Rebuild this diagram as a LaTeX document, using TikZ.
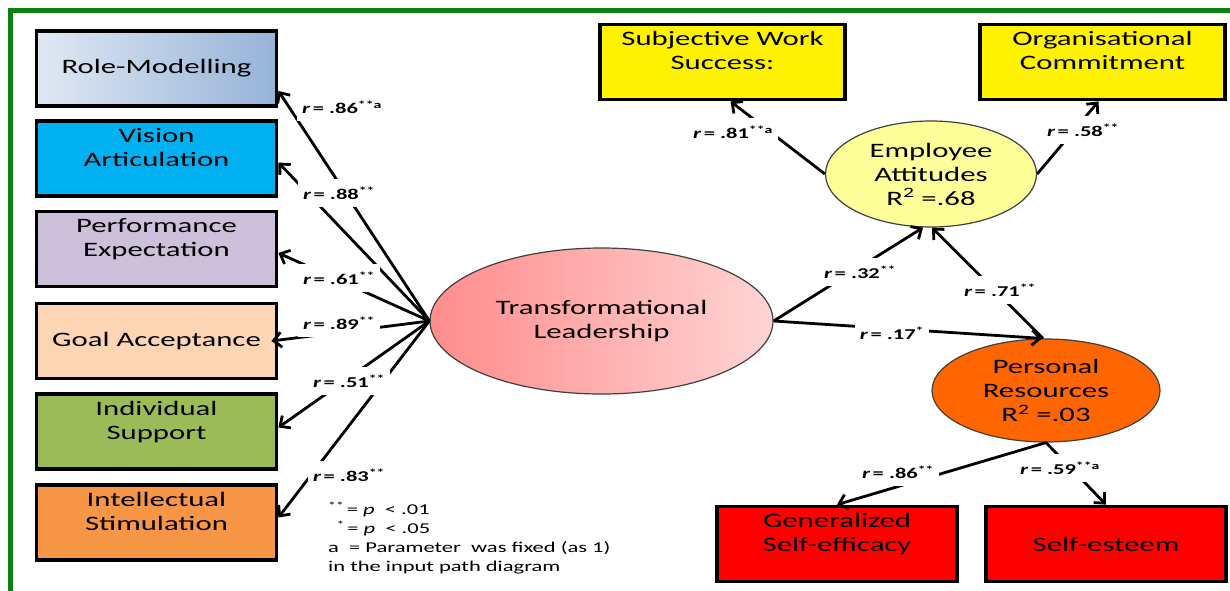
\documentclass[tikz,border=0pt]{standalone}
\usepackage{fontspec}
\setmainfont{Carlito}[FakeStretch=1.5]
\usetikzlibrary{shapes.geometric,arrows.meta}

\definecolor{framegreen}{RGB}{16,128,16}
\definecolor{rolelight}{RGB}{224,232,244}
\definecolor{roledark}{RGB}{149,179,215}
\definecolor{visionblue}{RGB}{0,176,240}
\definecolor{perflilac}{RGB}{204,192,218}
\definecolor{goalpeach}{RGB}{252,213,181}
\definecolor{supgreen}{RGB}{155,187,89}
\definecolor{stimorange}{RGB}{247,150,70}
\definecolor{leadlight}{RGB}{255,212,212}
\definecolor{leaddark}{RGB}{255,140,140}
\definecolor{attyellow}{RGB}{255,255,153}
\definecolor{resorange}{RGB}{255,102,0}

\newcommand{\boxfnt}{\fontsize{20.5}{24}\selectfont}
\newcommand{\coeffnt}{\fontsize{15}{17}\selectfont\bfseries}
\newcommand{\legfnt}{\fontsize{15}{19}\selectfont}

\begin{document}
\begin{tikzpicture}[x=1pt,y=-1pt,
  obsbox/.style={draw,line width=3.8pt,minimum width=240pt,minimum height=75pt,inner sep=0pt,font=\boxfnt},
  boxtop/.style={anchor=north,align=center,yshift=-5.5pt,font=\boxfnt},
  latent/.style={draw=black!75,line width=1.2pt,ellipse,align=center,inner sep=0pt,font=\boxfnt},
  effect/.style={line width=2.8pt,-{Straight Barb[length=8pt,width=15pt]}},
  coef/.style={fill=white,inner xsep=5pt,inner ysep=8pt,font=\coeffnt}]
  \useasboundingbox (0,0) rectangle (1230,590);
  \draw[framegreen,line width=5pt] (10,595) -- (10,10) -- (1235,10);

  % transformational leadership dimensions
  \node[obsbox,left color=rolelight,right color=roledark] (role) at (156.5,68.5) {Role-Modelling};
  \node[obsbox,fill=visionblue,label={[boxtop]north:{Vision\\Articulation}}] (vision) at (156.5,158.5) {};
  \node[obsbox,fill=perflilac,label={[boxtop]north:{Performance\\Expectation}}] (perf) at (156.5,249) {};
  \node[obsbox,fill=goalpeach] (goal) at (156.5,341) {Goal Acceptance};
  \node[obsbox,fill=supgreen,label={[boxtop]north:{Individual\\Support}}] (indiv) at (156.5,431.5) {};
  \node[obsbox,fill=stimorange,label={[boxtop]north:{Intellectual\\Stimulation}}] (intel) at (156.5,522.5) {};

  % latent variables
  \node[latent,minimum width=343pt,minimum height=146pt,left color=leaddark,right color=leadlight] (lead) at (601.5,321) {Transformational\\Leadership};
  \node[latent,minimum width=211pt,minimum height=106pt,fill=attyellow] (attit) at (931,174) {Employee\\Attitudes\\R\textsuperscript{2} =.68};
  \node[latent,minimum width=228pt,minimum height=103pt,fill=resorange] (pers) at (1046,390.5) {Personal\\Resources\\R\textsuperscript{2} =.03};

  % outcomes
  \node[obsbox,minimum width=245pt,fill=yellow,label={[boxtop]north:{Subjective Work\\Success:}}] (subj) at (722.5,62) {};
  \node[obsbox,minimum width=245pt,fill=yellow,label={[boxtop]north:{Organisational\\Commitment}}] (org) at (1102.5,62) {};
  \node[obsbox,fill=red,label={[boxtop]north:{Generalized\\Self-efficacy}}] (gen) at (837,544) {};
  \node[obsbox,fill=red] (self) at (1106,544) {Self-esteem};

  % paths
  \draw[effect] (lead.west) -- ([yshift=17pt]role.south east);
  \draw[effect] (lead.west) -- ([yshift=-4pt]vision.east);
  \draw[effect] (lead.west) -- ([yshift=-4pt]perf.east);
  \draw[effect] (lead.west) -- ([xshift=-7pt]goal.east);
  \draw[effect] (lead.west) -- ([yshift=4pt]indiv.east);
  \draw[effect] (lead.west) -- ([yshift=5pt]intel.east);
  \draw[effect] (lead.east) -- ([xshift=-8pt]attit.south);
  \draw[effect] (lead.east) -- ([xshift=-4pt]pers.north);
  \draw[effect,{Straight Barb[length=8pt,width=15pt]}-] ([xshift=1pt]attit.south) -- ([xshift=-3pt]pers.north);
  \draw[effect] (attit.west) -- ([xshift=8pt]subj.south);
  \draw[effect] (attit.east) -- ([xshift=-4pt]org.south);
  \draw[effect] (pers.south) -- (gen.north);
  \draw[effect] (pers.south) -- (self.north);

  % coefficients
  \node[coef] (rRole) at (342,107) {\textit{r}\,= .86\textsuperscript{**a}};
  \node[coef] (rVision) at (339,193) {\textit{r}\,= .88\textsuperscript{**}};
  \node[coef] (rPerf) at (339,278) {\textit{r}\,= .61\textsuperscript{**}};
  \node[coef] (rGoal) at (339,323) {\textit{r}\,= .89\textsuperscript{**}};
  \node[coef] (rIndiv) at (349,381) {\textit{r}\,= .51\textsuperscript{**}};
  \node[coef] (rIntel) at (349,475) {\textit{r}\,= .83\textsuperscript{**}};
  \node[coef] (rAtt) at (860,272) {\textit{r}\,= .32\textsuperscript{**}};
  \node[coef] (rRes) at (892,333) {\textit{r}\,= .17\textsuperscript{*}};
  \node[coef] (rCor) at (1000,290) {\textit{r}\,= .71\textsuperscript{**}};
  \node[coef] (rSubj) at (733,132) {\textit{r}\,= .81\textsuperscript{**a}};
  \node[coef] (rOrg) at (1083,130) {\textit{r}\,= .58\textsuperscript{**}};
  \node[coef] (rGen) at (898,472) {\textit{r}\,= .86\textsuperscript{**}};
  \node[coef] (rSelf) at (1060,468) {\textit{r}\,= .59\textsuperscript{**a}};

  \node[anchor=north west,align=left,inner sep=0pt,font=\legfnt] (legend) at (328,502)
    {\textsuperscript{**}\,= \textit{p}\ \ < .01\\
     \hphantom{\textsuperscript{*}}\textsuperscript{*}\,= \textit{p}\ \ < .05\\
     a\ \ = Parameter\ \ was\ fixed\ (as 1)\\
     in the\ input\ path\ diagram};
\end{tikzpicture}
\end{document}
